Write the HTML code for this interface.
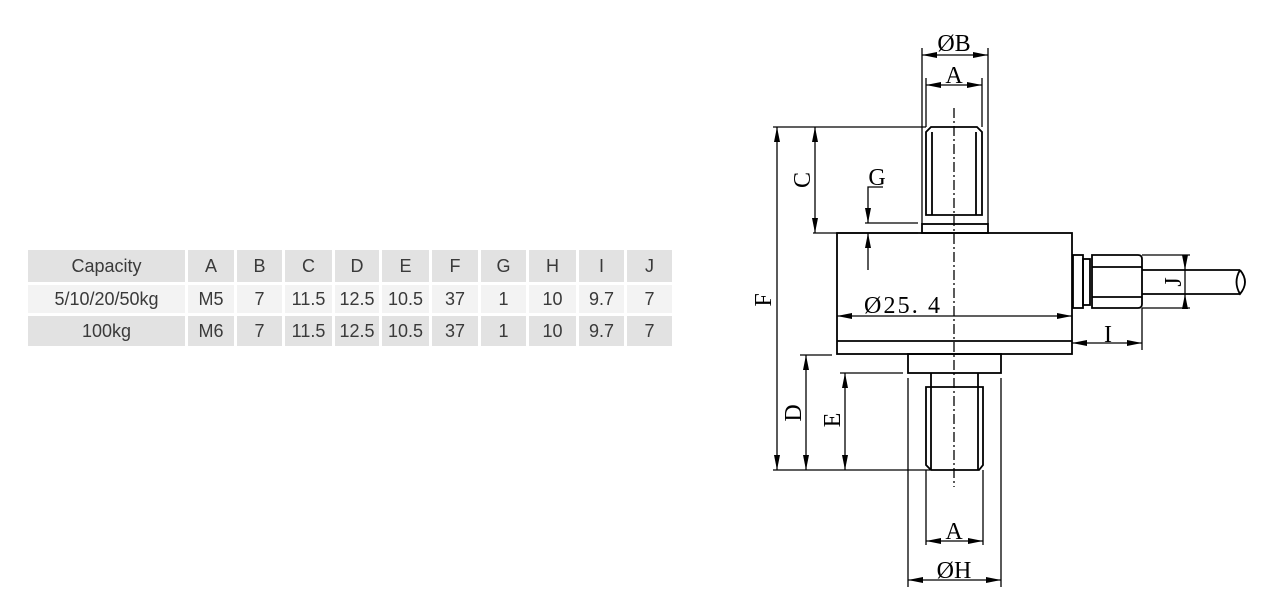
<!DOCTYPE html>
<html><head><meta charset="utf-8"><style>
body{margin:0;background:#fff;width:1275px;height:610px;overflow:hidden;position:relative;font-family:"Liberation Sans",sans-serif}
.c{position:absolute;display:flex;align-items:center;justify-content:center;font-size:18px;color:#3a3a3a}
</style></head><body>
<div id="t"></div>
<script>
const cols=[[28,185],[188,234],[237,282],[285,332],[335,379],[382,429],[432,478],[481,526],[529,576],[579,624],[627,672]];
const rows=[[250,282,'#e2e2e2',['Capacity','A','B','C','D','E','F','G','H','I','J']],
[285,313,'#f3f3f3',['5/10/20/50kg','M5','7','11.5','12.5','10.5','37','1','10','9.7','7']],
[316,346,'#e2e2e2',['100kg','M6','7','11.5','12.5','10.5','37','1','10','9.7','7']]];
let h='';
rows.forEach(r=>cols.forEach((c,i)=>{h+=`<div class="c" style="left:${c[0]}px;top:${r[0]}px;width:${c[1]-c[0]}px;height:${r[1]-r[0]}px;background:${r[2]}">${r[3][i]}</div>`}));
document.getElementById('t').innerHTML=h;
</script>
<svg width="1275" height="610" style="position:absolute;left:0;top:0" font-family="'Liberation Serif',serif" font-size="24">
<defs><marker id="a" markerWidth="15" markerHeight="6" refX="15" refY="3" orient="auto-start-reverse" markerUnits="userSpaceOnUse"><path d="M0,0L15,3L0,6z" fill="#000"/></marker></defs>
<g stroke="#000" stroke-width="1.8" fill="none">
<path d="M926,132L931,127H977L982,132V215H926Z"/>
<line x1="932" y1="132" x2="932" y2="215"/><line x1="976" y1="132" x2="976" y2="215"/>
<rect x="922" y="224" width="66" height="9"/>
<rect x="837" y="233" width="235" height="121"/>
<line x1="837" y1="341" x2="1072" y2="341"/>
<rect x="1073" y="255" width="10" height="53"/>
<rect x="1083" y="259" width="7" height="46"/>
<path d="M1092,255H1138Q1142,255 1142,259V304Q1142,308 1138,308H1092Z"/>
<line x1="1092" y1="267" x2="1142" y2="267"/><line x1="1092" y1="297" x2="1142" y2="297"/>
<path d="M1142,270H1240M1142,294H1240"/>
<path d="M1240,270Q1233,282 1240,294Q1250,282 1240,270"/>
<rect x="908" y="354" width="93" height="19"/>
<path d="M926,387H983V465L979,470H931L926,465Z"/>
<line x1="931" y1="373" x2="931" y2="470"/><line x1="978" y1="373" x2="978" y2="470"/>
</g>
<line x1="954" y1="108" x2="954" y2="487" stroke="#000" stroke-width="1.3" stroke-dasharray="10,3,2,3"/>
<g stroke="#000" stroke-width="1.3" fill="none">
<line x1="922" y1="48" x2="922" y2="224"/><line x1="988" y1="48" x2="988" y2="224"/>
<line x1="926" y1="78" x2="926" y2="127"/><line x1="982" y1="78" x2="982" y2="127"/>
<line x1="773" y1="127" x2="926" y2="127"/>
<line x1="813" y1="233" x2="918" y2="233"/>
<line x1="865" y1="223" x2="918" y2="223"/>
<line x1="773" y1="470" x2="930" y2="470"/>
<line x1="800" y1="355" x2="832" y2="355"/>
<line x1="840" y1="373" x2="903" y2="373"/>
<line x1="908" y1="378" x2="908" y2="587"/><line x1="1001" y1="378" x2="1001" y2="587"/>
<line x1="926" y1="470" x2="926" y2="545"/><line x1="983" y1="470" x2="983" y2="545"/>
<line x1="1142" y1="308" x2="1142" y2="350"/>
<line x1="1142" y1="255" x2="1190" y2="255"/><line x1="1142" y1="308" x2="1190" y2="308"/>
<line x1="922" y1="55" x2="988" y2="55" marker-start="url(#a)" marker-end="url(#a)"/>
<line x1="926" y1="85" x2="982" y2="85" marker-start="url(#a)" marker-end="url(#a)"/>
<line x1="777" y1="127" x2="777" y2="470" marker-start="url(#a)" marker-end="url(#a)"/>
<line x1="815" y1="127" x2="815" y2="233" marker-start="url(#a)" marker-end="url(#a)"/>
<path d="M883,187H868V223" marker-end="url(#a)"/>
<line x1="868" y1="270" x2="868" y2="233" marker-end="url(#a)"/>
<line x1="837" y1="316" x2="1072" y2="316" marker-start="url(#a)" marker-end="url(#a)"/>
<line x1="1072" y1="343" x2="1142" y2="343" marker-start="url(#a)" marker-end="url(#a)"/>
<line x1="1185" y1="255" x2="1185" y2="270" marker-end="url(#a)"/>
<line x1="1185" y1="308" x2="1185" y2="294" marker-end="url(#a)"/>
<line x1="1185" y1="270" x2="1185" y2="294"/>
<line x1="806" y1="355" x2="806" y2="470" marker-start="url(#a)" marker-end="url(#a)"/>
<line x1="845" y1="373" x2="845" y2="470" marker-start="url(#a)" marker-end="url(#a)"/>
<line x1="926" y1="541" x2="983" y2="541" marker-start="url(#a)" marker-end="url(#a)"/>
<line x1="908" y1="580" x2="1001" y2="580" marker-start="url(#a)" marker-end="url(#a)"/>
</g>
<g fill="#000" text-anchor="middle">
<text x="954" y="51">ØB</text>
<text x="954" y="83">A</text>
<text x="877" y="185">G</text>
<text x="902" y="313" textLength="76">Ø25. 4</text>
<text x="1108" y="342">I</text>
<text x="954" y="539">A</text>
<text x="954" y="578">ØH</text>
<text transform="translate(810,180) rotate(-90)">C</text>
<text transform="translate(771,300) rotate(-90)">F</text>
<text transform="translate(801,413) rotate(-90)">D</text>
<text transform="translate(840,420) rotate(-90)">E</text>
<text transform="translate(1181,282) rotate(-90)">J</text>
</g>
</svg>
</body></html>
